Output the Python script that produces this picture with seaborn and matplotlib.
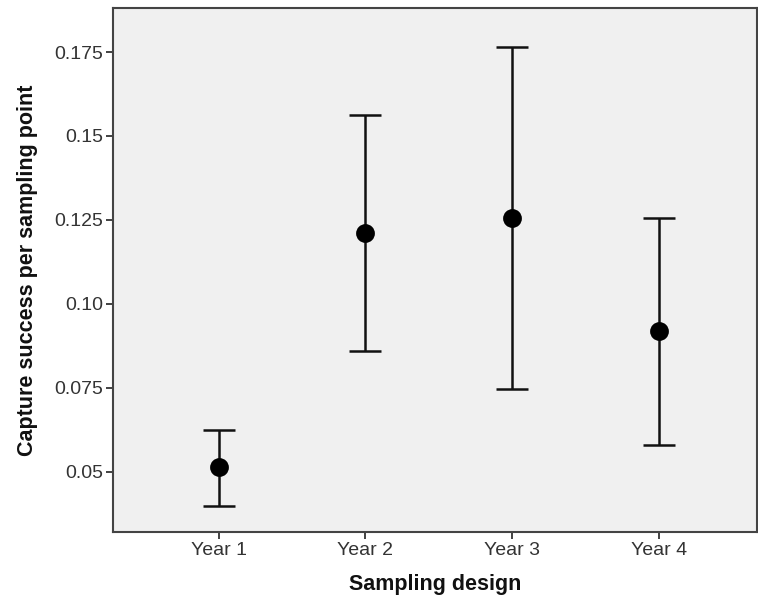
import matplotlib
matplotlib.use("Agg")
import matplotlib.pyplot as plt
import seaborn as sns
import pandas as pd
import numpy as np

categories = ["Year 1", "Year 2", "Year 3", "Year 4"]
means = [0.0515, 0.1211, 0.1255, 0.0918]
lower = [0.0399, 0.0860, 0.0748, 0.0580]
upper = [0.0625, 0.1562, 0.1766, 0.1256]
yticks = [0.05, 0.075, 0.10, 0.125, 0.15, 0.175]
ytick_labels = ["0.05", "0.075", "0.10", "0.125", "0.15", "0.175"]

df = pd.DataFrame({"design": categories, "value": means})

sns.set_style("white")
plt.rcParams["font.family"] = ["Liberation Sans", "DejaVu Sans"]

fig = plt.figure(figsize=(7.58, 6.10), dpi=100)
ax = fig.add_axes([113 / 758, 78 / 610, (757 - 113) / 758, (532 - 8) / 610])
ax.set_facecolor("#f0f0f0")

x = np.arange(len(categories))
m = np.array(means)
ax.errorbar(x, m, yerr=[m - np.array(lower), np.array(upper) - m], fmt="none",
            ecolor="#111111", elinewidth=1.8, capsize=11.5, capthick=1.8, zorder=2)
sns.pointplot(data=df, x="design", y="value", order=categories, linestyle="none",
              errorbar=None, color="black", markers="o", markersize=11.5, ax=ax, zorder=3)

ax.set_xlim(-0.72, 3.67)
ax.set_ylim(0.0321, 0.1881)
ax.set_yticks(yticks)
ax.set_yticklabels(ytick_labels)
ax.tick_params(axis="both", direction="out", length=5, width=1.3, color="#333333",
               labelsize=14, labelcolor="#333333", pad=2, left=True, bottom=True)
for s in ax.spines.values():
    s.set_color("#444444")
    s.set_linewidth(1.5)
ax.set_xlabel("Sampling design", fontsize=15.5, fontweight="bold", color="#111111", labelpad=11)
ax.set_ylabel("Capture success per sampling point", fontsize=15.5, fontweight="bold",
              color="#111111", labelpad=12)

fig.savefig("out.png", dpi=100)
